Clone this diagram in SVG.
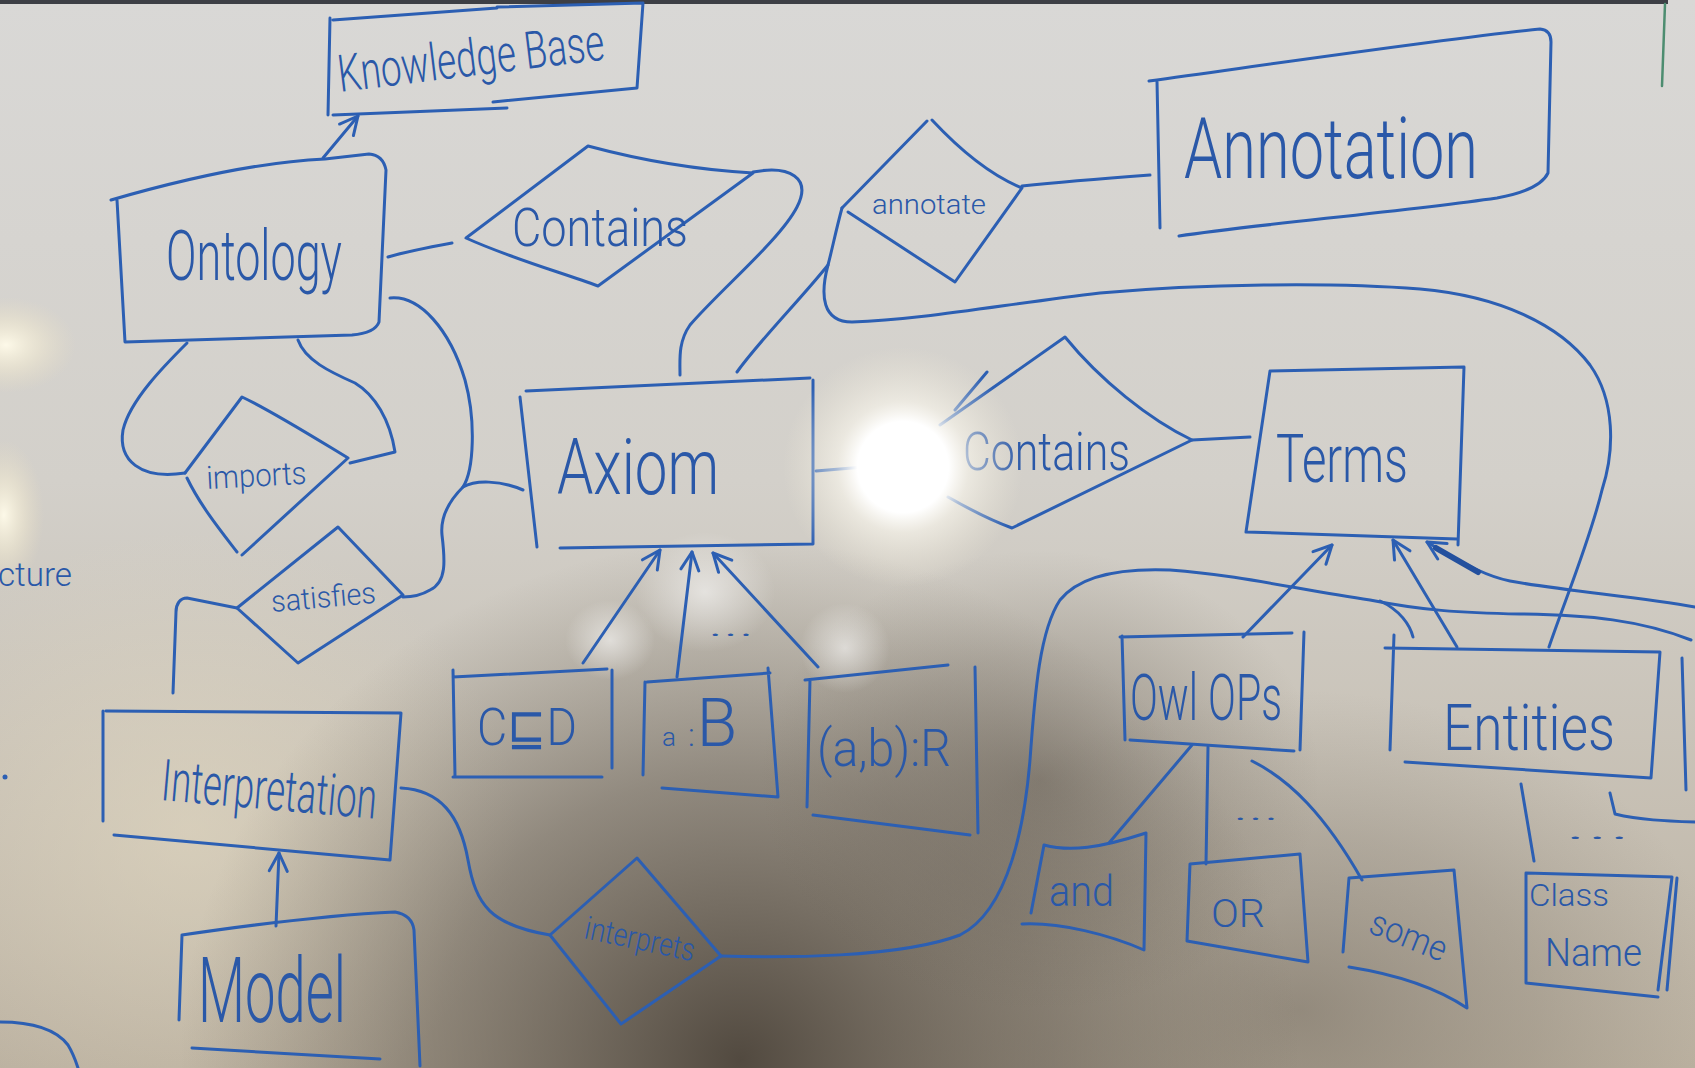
<svg xmlns="http://www.w3.org/2000/svg" width="1695" height="1068" viewBox="0 0 1695 1068">
  <defs>
    <style>
      .ln { fill: none; stroke: #2c5fb3; stroke-width: 3; stroke-linecap: round; stroke-linejoin: round; }
      .thick { fill: none; stroke: #23509e; stroke-width: 6; stroke-linecap: round; }
      .tx { font-family: Roboto, Lato, "Open Sans", "Liberation Sans", "DejaVu Sans", sans-serif; font-weight: 300; fill: #2a58a8; }
    </style>
    <marker id="ah" viewBox="0 0 24 24" refX="21" refY="12" markerWidth="24" markerHeight="24" markerUnits="userSpaceOnUse" orient="auto">
      <path d="M3,3 L21,12 L3,21" fill="none" stroke="#2c5fb3" stroke-width="3" stroke-linecap="round" stroke-linejoin="round"/>
    </marker>
    <linearGradient id="board" x1="0" y1="0" x2="0" y2="1">
      <stop offset="0" stop-color="#d9d8d6"/>
      <stop offset="0.45" stop-color="#d3d0ca"/>
      <stop offset="1" stop-color="#bcb2a1"/>
    </linearGradient>
    <radialGradient id="shadow" cx="0.5" cy="0.5" r="0.5">
      <stop offset="0" stop-color="#463e35" stop-opacity="0.9"/>
      <stop offset="0.55" stop-color="#5c544a" stop-opacity="0.5"/>
      <stop offset="1" stop-color="#6b6356" stop-opacity="0"/>
    </radialGradient>
    <radialGradient id="warm" cx="0.5" cy="0.5" r="0.5">
      <stop offset="0" stop-color="#fffbea" stop-opacity="0.95"/>
      <stop offset="0.5" stop-color="#f4ecd2" stop-opacity="0.5"/>
      <stop offset="1" stop-color="#eadfc2" stop-opacity="0"/>
    </radialGradient>
    <radialGradient id="beige" cx="0.5" cy="0.5" r="0.5">
      <stop offset="0" stop-color="#e2d8c0" stop-opacity="0.6"/>
      <stop offset="1" stop-color="#e2d8c0" stop-opacity="0"/>
    </radialGradient>
    <radialGradient id="glare" cx="0.5" cy="0.5" r="0.5">
      <stop offset="0" stop-color="#ffffff" stop-opacity="1"/>
      <stop offset="0.38" stop-color="#ffffff" stop-opacity="1"/>
      <stop offset="0.55" stop-color="#fbf8ee" stop-opacity="0.6"/>
      <stop offset="1" stop-color="#f0ead8" stop-opacity="0"/>
    </radialGradient>
    <radialGradient id="soft" cx="0.5" cy="0.5" r="0.5">
      <stop offset="0" stop-color="#ffffff" stop-opacity="0.55"/>
      <stop offset="1" stop-color="#ffffff" stop-opacity="0"/>
    </radialGradient>
  </defs>

  <!-- whiteboard surface and lighting -->
  <rect x="0" y="0" width="1695" height="1068" fill="url(#board)"/>
  <ellipse cx="190" cy="830" rx="330" ry="300" fill="url(#beige)"/>
  <ellipse cx="1300" cy="1010" rx="430" ry="320" fill="url(#shadow)" opacity="0.4"/>
  <ellipse cx="740" cy="1060" rx="560" ry="520" fill="url(#shadow)"/>
  <ellipse cx="1040" cy="780" rx="280" ry="230" fill="url(#shadow)" opacity="0.45"/>
  <ellipse cx="6" cy="345" rx="70" ry="48" fill="url(#warm)"/>
  <ellipse cx="4" cy="515" rx="40" ry="75" fill="url(#warm)"/>
  <ellipse cx="705" cy="592" rx="70" ry="60" fill="url(#soft)"/>
  <ellipse cx="845" cy="648" rx="45" ry="45" fill="url(#soft)"/>
  <ellipse cx="610" cy="640" rx="45" ry="40" fill="url(#soft)"/>
  <rect x="0" y="0" width="1668" height="4" fill="#3d3f45"/>
  <path d="M1665,4 L1662,86" fill="none" stroke="#4d8d70" stroke-width="2.5" stroke-linecap="round"/>

  <!-- stray marks at the board edges -->
  <g id="edge-marks">
    <text class="tx" x="-2" y="586" font-size="34" textLength="74" lengthAdjust="spacingAndGlyphs">cture</text>
    <circle cx="5" cy="777" r="2.5" fill="#2c5fb3"/>
    <path class="ln" d="M0,1022 C30,1022 55,1028 68,1045 C74,1055 76,1062 78,1068"/>
    <path class="ln" d="M1682,658 L1686,790"/>
  </g>

  <!-- connectors -->
  <g id="connectors">
    <path class="ln" d="M323,158 L358,116" marker-end="url(#ah)"/>
    <path class="ln" d="M276,926 L279,853" marker-end="url(#ah)"/>
    <path class="ln" d="M583,663 L660,550" marker-end="url(#ah)"/>
    <path class="ln" d="M677,677 L692,552" marker-end="url(#ah)"/>
    <path class="ln" d="M818,667 L713,553" marker-end="url(#ah)"/>
    <path class="ln" d="M1243,637 L1332,545" marker-end="url(#ah)"/>
    <path class="ln" d="M1457,647 L1393,540" marker-end="url(#ah)"/>
    <path class="ln" d="M1695,607 C1640,597 1565,591 1510,581 C1490,577 1470,568 1427,542" marker-end="url(#ah)"/>
    <path class="thick" d="M1436,548 L1478,572"/>

    <path class="ln" d="M388,257 C405,252 430,247 452,243"/>
    <path class="ln" d="M753,172 C790,165 812,178 797,207 C780,240 720,290 690,325 C678,342 680,360 680,375"/>
    <path class="ln" d="M842,208 C836,230 832,250 828,265 C800,300 760,340 737,372"/>
    <path class="ln" d="M828,265 C820,295 822,322 852,322 C920,320 1000,305 1100,293 C1200,284 1330,282 1420,289 C1500,296 1560,325 1590,365 C1615,400 1615,450 1602,490 C1590,540 1565,600 1549,647"/>
    <path class="ln" d="M1022,186 C1060,182 1110,178 1150,175"/>
    <path class="ln" d="M816,471 L864,467"/>
    <path class="ln" d="M1192,440 L1250,437"/>
    <path class="ln" d="M390,298 C420,295 450,330 465,380 C476,420 474,470 463,487 C450,500 440,515 442,535 C445,560 447,582 430,590 C420,596 410,597 403,597"/>
    <path class="ln" d="M463,487 C475,480 500,480 523,490"/>
    <path class="ln" d="M187,343 C165,365 130,400 123,430 C118,460 140,480 185,473"/>
    <path class="ln" d="M298,340 C305,360 330,372 355,383 C375,395 390,420 395,452 L350,463"/>
    <path class="ln" d="M237,608 L187,598 C180,598 176,604 176,612 L173,693"/>
    <path class="ln" d="M401,788 C440,790 460,815 468,860 C476,905 490,925 550,935"/>
    <path class="ln" d="M721,956 C780,958 900,958 960,935 C1010,910 1025,820 1030,760 C1035,690 1040,630 1060,600 C1080,575 1120,568 1170,570 C1240,575 1300,590 1370,600 C1420,610 1460,613 1520,614 C1590,615 1640,620 1691,640"/>
    <path class="ln" d="M1380,601 C1400,610 1410,625 1413,637"/>
    <path class="ln" d="M1192,745 L1109,843"/>
    <path class="ln" d="M1208,747 L1206,864"/>
    <path class="ln" d="M1252,761 C1290,780 1325,815 1362,880"/>
    <path class="ln" d="M1521,784 L1534,861"/>
    <path class="ln" d="M1610,793 L1615,814 C1640,820 1665,821 1695,822"/>
    <text class="tx" x="708" y="636" font-size="30" textLength="46" lengthAdjust="spacingAndGlyphs">...</text>
    <text class="tx" x="1233" y="820" font-size="30" textLength="46" lengthAdjust="spacingAndGlyphs">...</text>
    <text class="tx" x="1565" y="839" font-size="30" textLength="66" lengthAdjust="spacingAndGlyphs">...</text>
  </g>

  <!-- entities -->
  <g id="knowledge-base">
    <path class="ln" d="M333,20 L497,8 M497,7 L643,3 L637,88 L493,102 M507,108 L333,115 M328,115 L330,18"/>
    <text class="tx" x="340" y="92" font-size="52" textLength="268" lengthAdjust="spacingAndGlyphs" transform="rotate(-7 340 92)">Knowledge Base</text>
  </g>

  <g id="ontology">
    <path class="ln" d="M111,200 C180,180 260,162 325,159 L369,154 Q383,155 386,170 L379,322 Q375,333 352,335 L125,342 L117,200"/>
    <text class="tx" x="166" y="280" font-size="70" textLength="176" lengthAdjust="spacingAndGlyphs">Ontology</text>
  </g>

  <g id="contains-top">
    <path class="ln" d="M466,238 L588,146 C640,160 700,170 753,173 L598,286 C560,272 510,258 466,238 Z"/>
    <text class="tx" x="512" y="246" font-size="54" textLength="176" lengthAdjust="spacingAndGlyphs">Contains</text>
  </g>

  <g id="annotate">
    <path class="ln" d="M842,208 L927,121 M932,120 C960,150 990,175 1022,188 L955,282 L848,212"/>
    <text class="tx" x="872" y="214" font-size="28" textLength="114" lengthAdjust="spacingAndGlyphs">annotate</text>
  </g>

  <g id="annotation">
    <path class="ln" d="M1149,81 C1300,60 1450,38 1540,29 Q1551,30 1551,42 L1548,173 Q1540,190 1497,198 C1400,212 1250,225 1179,236 M1157,81 L1160,228"/>
    <text class="tx" x="1184" y="178" font-size="86" textLength="294" lengthAdjust="spacingAndGlyphs">Annotation</text>
  </g>

  <g id="axiom">
    <path class="ln" d="M526,391 L810,378 M813,380 L813,544 L560,548 M537,547 L520,397"/>
    <text class="tx" x="557" y="494" font-size="78" textLength="162" lengthAdjust="spacingAndGlyphs">Axiom</text>
  </g>

  <g id="contains-mid">
    <path class="ln" d="M940,425 L1065,337 C1100,380 1150,420 1192,440 L1012,528 C990,520 962,505 948,497 M987,372 L955,410"/>
    <text class="tx" x="963" y="470" font-size="54" textLength="167" lengthAdjust="spacingAndGlyphs">Contains</text>
  </g>

  <g id="terms">
    <path class="ln" d="M1270,371 L1464,367 L1458,545 M1246,532 L1457,539 M1270,371 L1246,532"/>
    <text class="tx" x="1276" y="482" font-size="66" textLength="132" lengthAdjust="spacingAndGlyphs">Terms</text>
  </g>

  <g id="imports">
    <path class="ln" d="M185,473 L242,397 C270,410 310,435 348,458 L242,555 M187,478 C200,505 220,530 237,552"/>
    <text class="tx" x="207" y="489" font-size="32" textLength="100" lengthAdjust="spacingAndGlyphs" transform="rotate(-3 207 489)">imports</text>
  </g>

  <g id="satisfies">
    <path class="ln" d="M237,608 L338,527 L403,595 L298,663 Z"/>
    <text class="tx" x="272" y="612" font-size="30" textLength="105" lengthAdjust="spacingAndGlyphs" transform="rotate(-5 272 612)">satisfies</text>
  </g>

  <g id="interpretation">
    <path class="ln" d="M106,711 L401,713 L390,860 M114,835 L390,860 M103,711 L103,821"/>
    <text class="tx" x="160" y="800" font-size="58" textLength="216" lengthAdjust="spacingAndGlyphs" transform="rotate(5 160 800)">Interpretation</text>
  </g>

  <g id="model">
    <path class="ln" d="M182,935 C250,925 330,915 395,912 Q412,915 414,930 L420,1066 M179,1020 L182,935 M192,1048 L380,1059"/>
    <text class="tx" x="198" y="1022" font-size="90" textLength="148" lengthAdjust="spacingAndGlyphs">Model</text>
  </g>

  <g id="axiom-subsumption">
    <path class="ln" d="M453,670 L455,776 M453,677 L607,669 M612,670 L612,768 M453,777 L602,777"/>
    <text class="tx" x="477" y="745" font-size="52" textLength="100" lengthAdjust="spacingAndGlyphs">C⊑D</text>
  </g>

  <g id="axiom-class-assertion">
    <path class="ln" d="M645,682 L643,775 M647,682 L770,673 M768,668 L778,797 M662,788 L778,797"/>
    <text class="tx" x="662" y="746"><tspan font-size="26">a</tspan><tspan dx="12" font-size="32">:</tspan><tspan dx="2" font-size="66">B</tspan></text>
  </g>

  <g id="axiom-role-assertion">
    <path class="ln" d="M810,680 L807,807 M805,680 L948,665 M975,667 L978,833 M813,815 L970,835"/>
    <text class="tx" x="817" y="766" font-size="52" textLength="134" lengthAdjust="spacingAndGlyphs">(a,b):R</text>
  </g>

  <g id="interprets">
    <path class="ln" d="M550,935 L637,858 L721,956 L621,1024 Z"/>
    <text class="tx" x="583" y="938" font-size="32" textLength="112" lengthAdjust="spacingAndGlyphs" transform="rotate(12 583 938)">interprets</text>
  </g>

  <g id="owl-ops">
    <path class="ln" d="M1120,637 L1292,633 M1304,632 L1300,750 M1130,740 L1294,751 M1122,636 L1125,740"/>
    <text class="tx" x="1130" y="720" font-size="64" textLength="152" lengthAdjust="spacingAndGlyphs">Owl OPs</text>
  </g>

  <g id="entities">
    <path class="ln" d="M1385,648 L1660,652 L1651,778 M1405,762 L1651,778 M1394,635 L1390,750"/>
    <text class="tx" x="1443" y="750" font-size="64" textLength="172" lengthAdjust="spacingAndGlyphs">Entities</text>
  </g>

  <g id="op-and">
    <path class="ln" d="M1044,845 C1070,852 1100,848 1146,833 L1144,950 C1110,935 1060,922 1022,924 M1044,845 L1031,913"/>
    <text class="tx" x="1049" y="906" font-size="42" textLength="65" lengthAdjust="spacingAndGlyphs">and</text>
  </g>

  <g id="op-or">
    <path class="ln" d="M1190,864 L1300,854 L1308,962 L1187,941 Z"/>
    <text class="tx" x="1211" y="927" font-size="38" textLength="54" lengthAdjust="spacingAndGlyphs">OR</text>
  </g>

  <g id="op-some">
    <path class="ln" d="M1349,878 L1454,870 L1467,1008 M1349,967 C1400,975 1440,990 1467,1008 M1349,878 L1343,952"/>
    <text class="tx" x="1367" y="932" font-size="36" textLength="80" lengthAdjust="spacingAndGlyphs" transform="rotate(22 1367 932)">some</text>
  </g>

  <g id="class-name">
    <path class="ln" d="M1526,873 L1672,877 L1658,990 M1526,983 L1658,997 M1526,873 L1526,983 M1677,878 L1667,990"/>
    <text class="tx" x="1529" y="906" font-size="32" textLength="80" lengthAdjust="spacingAndGlyphs">Class</text>
    <text class="tx" x="1545" y="966" font-size="38" textLength="97" lengthAdjust="spacingAndGlyphs">Name</text>
  </g>

  <!-- light reflection over the board -->
  <circle cx="903" cy="467" r="120" fill="url(#glare)"/>
</svg>
